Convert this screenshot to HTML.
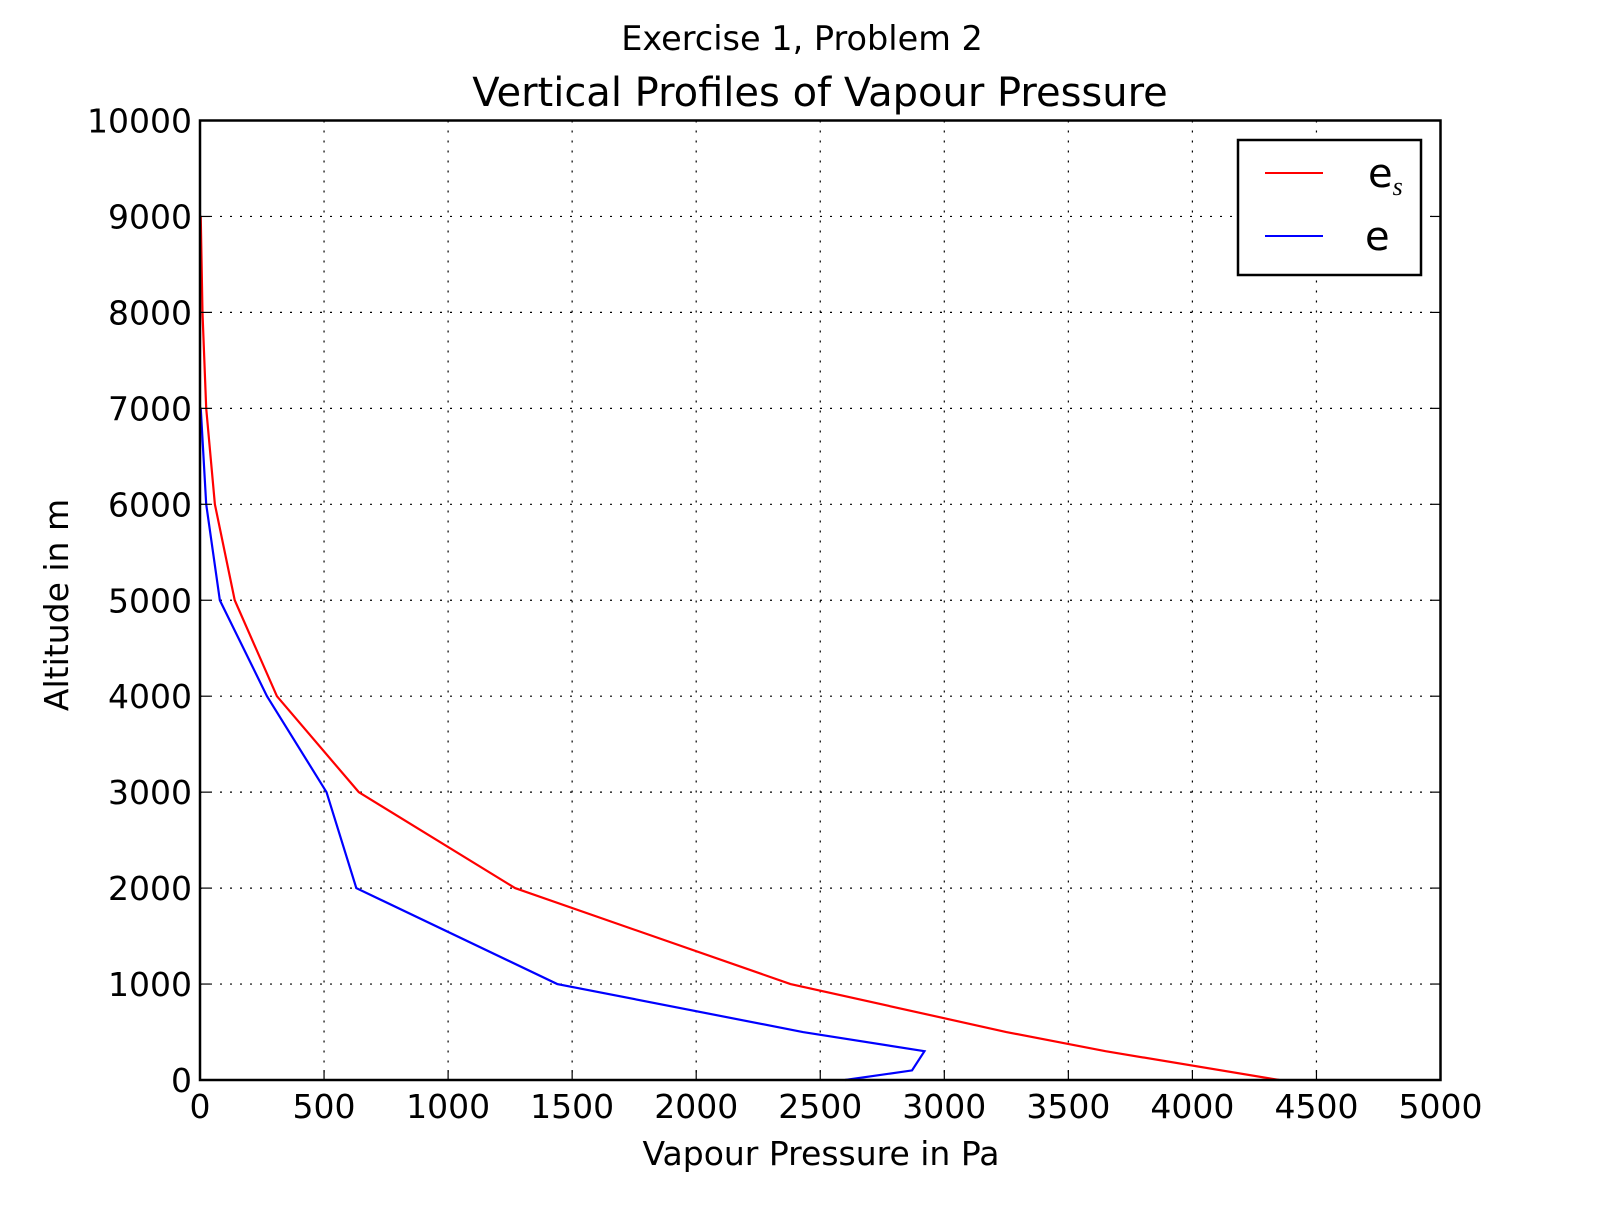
<!DOCTYPE html>
<html><head><meta charset="utf-8"><style>
body{margin:0;background:#fff}
svg text{font-family:"DejaVu Sans","Liberation Sans",sans-serif;fill:#000}
</style></head><body>
<svg width="1600" height="1200" viewBox="0 0 1600 1200" xmlns="http://www.w3.org/2000/svg">
<text x="802" y="50" font-size="33.5" text-anchor="middle">Exercise 1, Problem 2</text>
<text x="820" y="106" font-size="40" text-anchor="middle">Vertical Profiles of Vapour Pressure</text>
<g id="grid"></g>
<g id="series"></g>
<rect x="200" y="120.5" width="1240.5" height="959.5" fill="none" stroke="#000" stroke-width="2.5"/>
<g id="ticks"></g>
<text x="821" y="1165" font-size="33" text-anchor="middle">Vapour Pressure in Pa</text>
<text transform="translate(68,605) rotate(-90)" font-size="33" text-anchor="middle">Altitude in m</text>
<g>
<rect x="1238" y="140" width="183" height="135" fill="#fff" stroke="#000" stroke-width="2.5"/>
<line x1="1265" y1="173" x2="1323" y2="173" stroke="#f00" stroke-width="2"/>
<text x="1368" y="187" font-size="40">e<tspan font-family="Liberation Serif,serif" font-style="italic" font-size="26" dy="8">s</tspan></text>
<line x1="1265" y1="236" x2="1323" y2="236" stroke="#00f" stroke-width="2"/>
<text x="1365" y="250" font-size="40">e</text>
</g>
</svg>
<script>
const altitudes = [0, 300, 500, 1000, 2000, 3000, 4000, 5000, 6000, 7000, 8000, 9000];
const esValues = [4350, 3650, 3250, 2380, 1270, 640, 310, 140, 60, 25, 10, 3];
const eAltitudes = [0, 100, 300, 500, 1000, 2000, 3000, 4000, 5000, 6000, 7000];
const eValues = [2600, 2870, 2920, 2430, 1440, 630, 510, 270, 80, 25, 3];
const xTicks = [0, 500, 1000, 1500, 2000, 2500, 3000, 3500, 4000, 4500, 5000];
const yTicks = [0, 1000, 2000, 3000, 4000, 5000, 6000, 7000, 8000, 9000, 10000];
const NS = "http://www.w3.org/2000/svg";
const X0 = 200, X1 = 1440.5, Y0 = 1080, Y1 = 120.5;
function sx(v){ return X0 + (v/5000)*(X1-X0); }
function sy(v){ return Y0 - (v/10000)*(Y0-Y1); }
function mk(tag, attrs, parent){ const el=document.createElementNS(NS,tag); for(const k in attrs) el.setAttribute(k,attrs[k]); parent.appendChild(el); return el; }
const grid=document.getElementById('grid'), ticks=document.getElementById('ticks'), series=document.getElementById('series');
xTicks.forEach(t=>{
  const x=sx(t);
  const g=mk('line',{x1:x,y1:Y1,x2:x,y2:Y0,stroke:'#000','stroke-width':1.2,'stroke-dasharray':'2 8'},grid);
  
  
  const tk=mk('line',{x1:x,y1:Y0,x2:x,y2:Y0-10,stroke:'#000','stroke-width':1.2},ticks);
  
  
  const tl=mk('text',{x:x,y:Y0+38,'font-size':33,'text-anchor':'middle'},ticks);
  tl.textContent=t;
  
  
});
yTicks.forEach(t=>{
  const y=sy(t);
  const g=mk('line',{x1:X0,y1:y,x2:X1,y2:y,stroke:'#000','stroke-width':1.2,'stroke-dasharray':'2 8'},grid);
  
  
  const tk=mk('line',{x1:X0,y1:y,x2:X0+10,y2:y,stroke:'#000','stroke-width':1.2},ticks);
  
  
  const tk2=mk('line',{x1:X1,y1:y,x2:X1-10,y2:y,stroke:'#000','stroke-width':1.2},ticks);
  
  
  const tl=mk('text',{x:X0-8,y:y+12,'font-size':33,'text-anchor':'end'},ticks);
  tl.textContent=t;
  
  
});
const esLine=mk('polyline',{points:esValues.map((v,i)=>sx(v)+','+sy(altitudes[i])).join(' '),fill:'none',stroke:'#f00','stroke-width':2.2},series);


const eLine=mk('polyline',{points:eValues.map((v,i)=>sx(v)+','+sy(eAltitudes[i])).join(' '),fill:'none',stroke:'#00f','stroke-width':2.2},series);


</script>
</body></html>
